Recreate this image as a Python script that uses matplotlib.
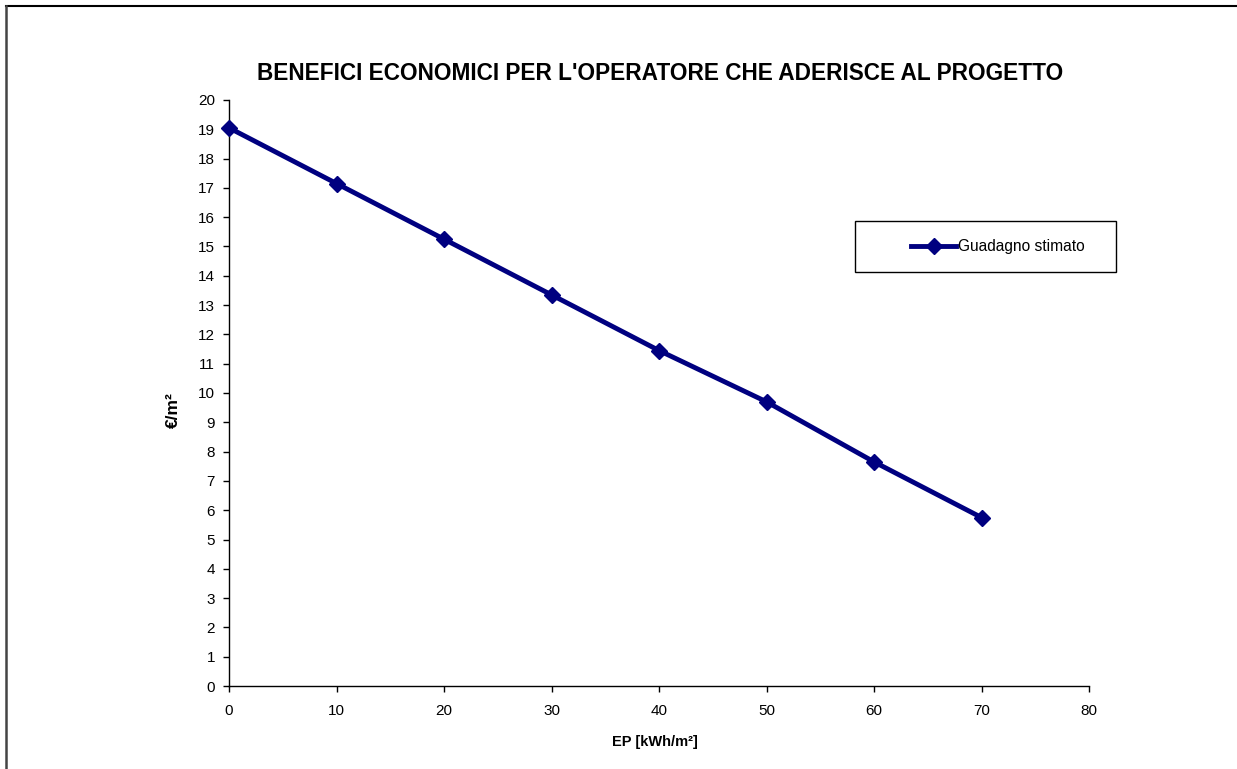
import matplotlib
matplotlib.use("Agg")
import matplotlib.pyplot as plt
from matplotlib.lines import Line2D
from matplotlib.patches import Rectangle

# data
ep = [0, 10, 20, 30, 40, 50, 60, 70]
guadagno = [19.05, 17.15, 15.25, 13.35, 11.45, 9.7, 7.65, 5.75]
x_ticks = list(range(0, 81, 10))
y_ticks = list(range(0, 21))

plt.rcParams['font.family'] = ['Liberation Sans', 'DejaVu Sans']

W, H = 1237, 769
fig = plt.figure(figsize=(W/100, H/100), dpi=100)
ax = fig.add_axes([229/W, 1-686/H, 860/W, 586/H])

ax.plot(ep, guadagno, color='#000080', lw=3.5, marker='D', ms=8.5,
		label='Guadagno stimato', clip_on=False, zorder=3)

ax.set_xlim(0, 80)
ax.set_ylim(0, 20)
ax.set_xticks(x_ticks)
ax.set_yticks(y_ticks)
ax.tick_params(direction='out', length=4, width=1, labelsize=11)
ax.tick_params(axis='x', pad=9)
ax.tick_params(axis='y', pad=6)
for s in ['top', 'right']:
	ax.spines[s].set_visible(False)
for s in ['left', 'bottom']:
	ax.spines[s].set_linewidth(1)

ax.set_xlabel('EP [kWh/m²]', fontsize=10.5, fontweight='bold')
ax.xaxis.set_label_coords((655-229)/860, (686-735)/586)
ax.set_ylabel('€/m²', fontsize=12.5, fontweight='bold')
ax.yaxis.set_label_coords((181-229)/860, (686-410)/586)

fig.text(660/W, 1-74/H, "BENEFICI ECONOMICI PER L'OPERATORE CHE ADERISCE AL PROGETTO",
		 ha='center', va='center', fontsize=16.3, fontweight='bold')

# legend box
fig.patches.append(Rectangle((855/W, 1-272/H), 261/W, 51/H, transform=fig.transFigure,
							 fill=False, edgecolor='black', lw=1))
fig.legend(loc='center', bbox_to_anchor=(998/W, 1-247/H), frameon=False,
		   fontsize=11.2, handlelength=2.9, handletextpad=0.1, borderpad=0)

# outer chart frame
fig.lines.append(Line2D([6/W, 1], [1-6/H, 1-6/H], transform=fig.transFigure, color='black', lw=1.5))
fig.lines.append(Line2D([6/W, 6/W], [0, 1-6/H], transform=fig.transFigure, color='#444444', lw=1.8))

fig.savefig('out.png', dpi=100)
